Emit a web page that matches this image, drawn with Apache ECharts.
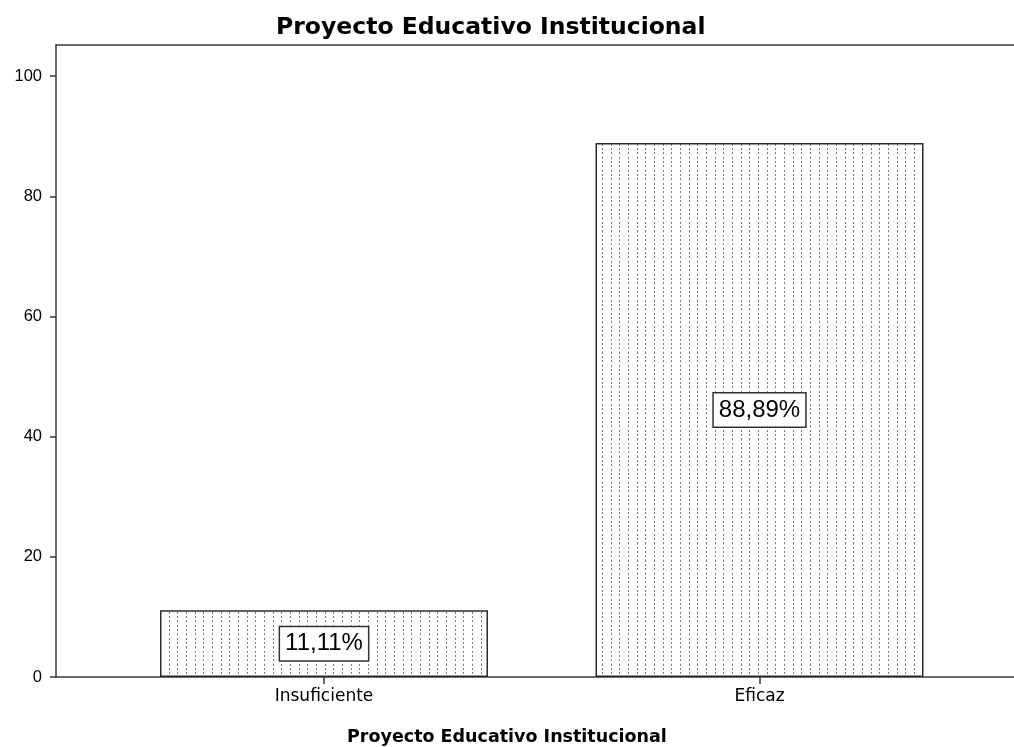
<!DOCTYPE html>
<html>
<head>
<meta charset="utf-8">
<script src="https://cdn.jsdelivr.net/npm/echarts@6/dist/echarts.min.js"></script>
<style>
html,body{margin:0;padding:0;background:#fff;}
#c{width:1014px;height:747px;}
</style>
</head>
<body>
<div id="c"></div>
<script>
var titleText = 'Proyecto Educativo Institucional';
var axisTitleText = 'Proyecto Educativo Institucional';
var categories = ['Insuficiente', 'Eficaz'];
var values = [11.11, 88.89];
var yTicks = [0, 20, 40, 60, 80, 100];
var xPositions = [0, 1];

// dotted fill pattern
var pc = document.createElement('canvas');
pc.width = 26; pc.height = 13;
var pctx = pc.getContext('2d');
pctx.fillStyle = '#ffffff';
pctx.fillRect(0, 0, 26, 13);
pctx.fillStyle = '#7a7a7a';
[0, 9, 17].forEach(function (x) {
  [1, 5, 9].forEach(function (y) { pctx.fillRect(x + 4, y, 1, 2); });
});

var chart = echarts.init(document.getElementById('c'), null, {renderer: 'canvas'});
var lineStyle = {color: '#3a3a3a', width: 1.5};
chart.setOption({
  animation: false,
  backgroundColor: '#ffffff',
  title: [{
    text: titleText, left: 271, top: 11,
    textStyle: {fontFamily: 'DejaVu Sans', fontWeight: 'bold', fontSize: 23.5, color: '#000'}
  }, {
    text: axisTitleText, left: 342, top: 723,
    textStyle: {fontFamily: 'DejaVu Sans', fontWeight: 'bold', fontSize: 17.5, color: '#000'}
  }],
  grid: {left: 56, right: 0, top: 45, bottom: 70, containLabel: false},
  xAxis: [{
    type: 'value', min: -0.6154, max: 1.5844, position: 'bottom',
    axisLine: {show: true, onZero: false, lineStyle: lineStyle},
    axisTick: {show: true, length: 7, customValues: xPositions, lineStyle: lineStyle},
    axisLabel: {
      customValues: xPositions, margin: 11,
      fontFamily: 'DejaVu Sans', fontSize: 17, color: '#000',
      formatter: function (v) { return categories[Math.round(v)]; }
    },
    splitLine: {show: false}
  }, {
    type: 'value', min: -0.6154, max: 1.5844, position: 'top',
    axisLine: {show: true, onZero: false, lineStyle: lineStyle},
    axisTick: {show: false}, axisLabel: {show: false}, splitLine: {show: false}
  }],
  yAxis: {
    type: 'value', min: 0, max: 105.2,
    axisLine: {show: true, onZero: false, lineStyle: lineStyle},
    axisTick: {show: true, length: 6, customValues: yTicks, lineStyle: lineStyle},
    axisLabel: {
      customValues: yTicks, margin: 14,
      fontFamily: 'Liberation Sans', fontSize: 16.5, color: '#000'
    },
    splitLine: {show: false}
  },
  series: [{
    type: 'bar',
    xAxisIndex: 0,
    barWidth: 328,
    data: values.map(function (v, i) { return [xPositions[i], v]; }),
    itemStyle: {
      color: {image: pc, repeat: 'repeat'},
      borderColor: '#2a2a2a', borderWidth: 1.5
    },
    label: {
      show: true, position: 'inside',
      formatter: function (p) { return p.value[1].toFixed(2).replace('.', ',') + '%'; },
      fontFamily: 'Liberation Sans', fontSize: 24, color: '#000',
      backgroundColor: '#fff', borderColor: '#333', borderWidth: 1.5,
      padding: [4, 5, 3, 5], lineHeight: 26
    }
  }]
});
</script>
</body>
</html>
